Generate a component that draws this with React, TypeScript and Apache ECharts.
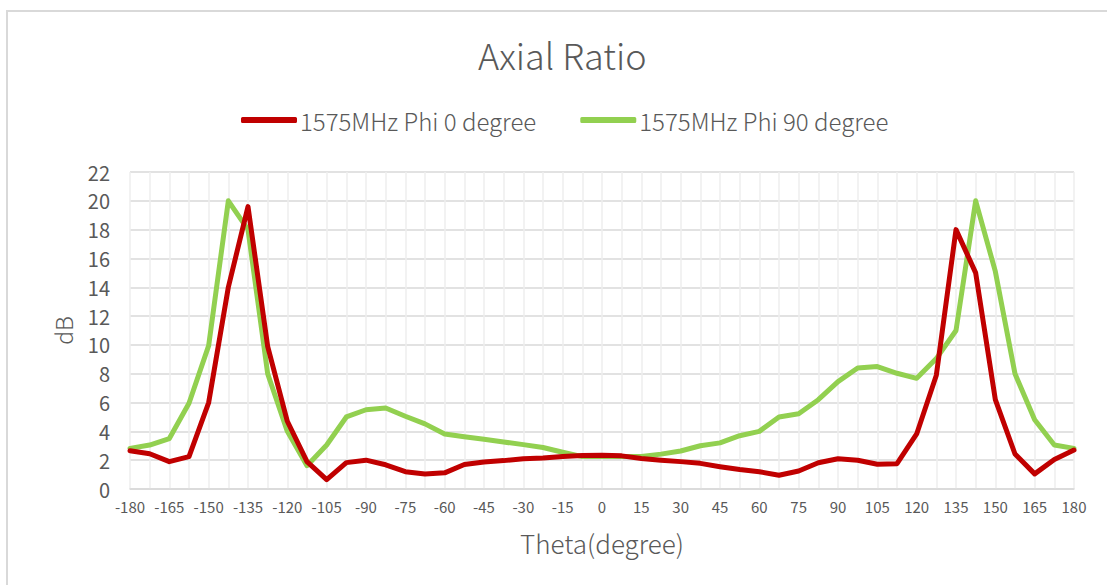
import React, { useEffect, useRef } from "react";
import * as echarts from "echarts";

const theta = [
  "-180", "-172.5", "-165", "-157.5", "-150", "-142.5", "-135", "-127.5", "-120", "-112.5",
  "-105", "-97.5", "-90", "-82.5", "-75", "-67.5", "-60", "-52.5", "-45", "-37.5",
  "-30", "-22.5", "-15", "-7.5", "0", "7.5", "15", "22.5", "30", "37.5",
  "45", "52.5", "60", "67.5", "75", "82.5", "90", "97.5", "105", "112.5",
  "120", "127.5", "135", "142.5", "150", "157.5", "165", "172.5", "180",
];

const phi0 = [
  2.65, 2.45, 1.9, 2.25, 6.0, 14.0, 19.6, 9.9, 4.7, 1.9,
  0.65, 1.83, 2.0, 1.68, 1.2, 1.04, 1.12, 1.7, 1.88, 1.97,
  2.1, 2.15, 2.25, 2.32, 2.35, 2.3, 2.12, 2.0, 1.9, 1.78,
  1.55, 1.35, 1.2, 0.95, 1.25, 1.82, 2.1, 2.0, 1.72, 1.76,
  3.82, 7.9, 18.0, 15.0, 6.2, 2.43, 1.05, 2.05, 2.7,
];

const phi90 = [
  2.82, 3.05, 3.5, 5.95, 9.95, 20.0, 18.0, 8.0, 4.0, 1.62,
  3.05, 5.0, 5.5, 5.62, 5.05, 4.52, 3.82, 3.62, 3.45, 3.26,
  3.08, 2.88, 2.55, 2.25, 2.25, 2.25, 2.25, 2.42, 2.64, 3.0,
  3.2, 3.7, 4.0, 5.0, 5.22, 6.2, 7.45, 8.4, 8.5, 8.03,
  7.68, 9.05, 11.0, 20.0, 15.1, 8.0, 4.8, 3.05, 2.82,
];

const seriesNames = ["1575MHz Phi 0 degree", "1575MHz Phi 90 degree"];
const seriesColors = ["#C00000", "#92D050"];

const FONT = "'Noto Sans CJK SC', 'Noto Sans', sans-serif";
const TEXT = "#595959";

export default function App() {
  const ref = useRef<HTMLDivElement>(null);
  useEffect(() => {
    if (!ref.current) return;
    const chart = echarts.init(ref.current, null, { renderer: "svg" });
    chart.setOption({
      animation: false,
      backgroundColor: "#ffffff",
      title: {
        text: "Axial Ratio",
        left: 473,
        top: 31,
        textStyle: { fontFamily: FONT, fontSize: 36, fontWeight: 300, color: TEXT },
      },
      legend: {
        top: 103,
        left: 236,
        icon: "roundRect",
        itemWidth: 56,
        itemHeight: 6,
        itemGap: 44,
        textStyle: { fontFamily: FONT, fontSize: 24, color: TEXT, fontWeight: 300, padding: [0, 0, 0, -2] },
        data: seriesNames,
      },
      graphic: [
        {
          type: "rect",
          shape: { x: 7, y: 11, width: 1200, height: 700 },
          style: { fill: "none", stroke: "#d9d9d9", lineWidth: 2 },
          silent: true,
        },
      ],
      grid: { left: 130, right: 33, top: 172, bottom: 96, containLabel: false },
      xAxis: {
        type: "category",
        data: theta,
        boundaryGap: false,
        name: "Theta(degree)",
        nameLocation: "middle",
        nameGap: 40,
        nameTextStyle: { fontFamily: FONT, fontSize: 26, color: TEXT, fontWeight: 300, verticalAlign: "top" },
        axisLine: { lineStyle: { color: "#d9d9d9", width: 1.5 } },
        axisTick: { show: false },
        axisLabel: {
          interval: 1,
          margin: 10,
          fontFamily: FONT,
          fontSize: 15,
          color: TEXT,
        },
        splitLine: { show: true, interval: 0, lineStyle: { color: "#eeeeee", width: 1.5 } },
      },
      yAxis: {
        type: "value",
        min: 0,
        max: 22,
        interval: 2,
        name: "dB",
        nameLocation: "middle",
        nameGap: 56,
        nameTextStyle: { fontFamily: FONT, fontSize: 23, color: TEXT, fontWeight: 300 },
        axisLine: { show: false },
        axisTick: { show: false },
        axisLabel: { margin: 20, fontFamily: FONT, fontSize: 20, color: TEXT },
        splitLine: { show: true, lineStyle: { color: "#d9d9d9", width: 1.5 } },
      },
      series: [
        {
          name: seriesNames[0],
          type: "line",
          data: phi0,
          symbol: "none",
          lineStyle: { color: seriesColors[0], width: 5, cap: "round", join: "round" },
          itemStyle: { color: seriesColors[0] },
          z: 3,
        },
        {
          name: seriesNames[1],
          type: "line",
          data: phi90,
          symbol: "none",
          lineStyle: { color: seriesColors[1], width: 5, cap: "round", join: "round" },
          itemStyle: { color: seriesColors[1] },
          z: 2,
        },
      ],
    });
    return () => chart.dispose();
  }, []);
  return (
    <div
      ref={ref}
      style={{ position: "fixed", left: 0, top: 0, width: 1107, height: 585 }}
    />
  );
}
